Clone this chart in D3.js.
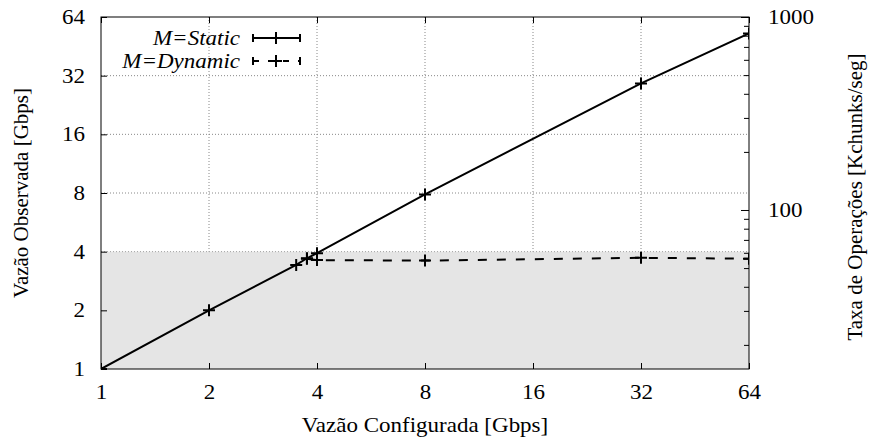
<!DOCTYPE html>
<html><head><meta charset="utf-8">
<script src="https://cdn.jsdelivr.net/npm/d3@7"></script>
<style>body{margin:0;background:#fff}svg{display:block}</style>
</head><body><svg id="c" width="869" height="441"></svg>
<script>
const xTicks = [1, 2, 4, 8, 16, 32, 64];
const yTicks = [1, 2, 4, 8, 16, 32, 64];
const y2Labels = [100, 1000];
const staticX = [1, 2, 3.5, 3.75, 4, 8, 32, 64];
const staticY = [1, 2, 3.42, 3.7, 3.93, 7.87, 29.2, 52.7];
const dynamicX = [3.75, 4, 8, 32, 64];
const dynamicY = [3.68, 3.62, 3.6, 3.72, 3.68];
const shadeLimit = 4;
const seriesNames = ["M=Static", "M=Dynamic"];

const FONT = "'Liberation Serif'";
const FS = 20, SX = 1.15;
const svg = d3.select("#c");
const L = 101, R = 749, T = 17, B = 369;
const x = d3.scaleLog().base(2).domain([1, 64]).range([L, R]);
const y = d3.scaleLog().base(2).domain([1, 64]).range([B, T]);
const y2 = d3.scaleLog().domain([15, 1000]).range([B, T]);

// grid
const grid = svg.append("g").attr("stroke", "#888").attr("stroke-width", 1).attr("stroke-dasharray", "1,2");
xTicks.slice(1, -1).forEach(v => grid.append("line").attr("x1", x(v)).attr("x2", x(v)).attr("y1", B).attr("y2", T));
yTicks.slice(1, -1).forEach(v => grid.append("line").attr("x1", L).attr("x2", R).attr("y1", y(v)).attr("y2", y(v)));

// shaded region
svg.append("rect").attr("x", L).attr("y", y(shadeLimit)).attr("width", R - L).attr("height", B - y(shadeLimit)).attr("fill", "#e5e5e5");
svg.append("line").attr("x1", L).attr("x2", R).attr("y1", y(shadeLimit)).attr("y2", y(shadeLimit))
  .attr("stroke", "#aaa").attr("stroke-dasharray", "1,2");

// axes
const axG = svg.append("g");
const xb = axG.append("g").attr("transform", `translate(0,${B})`)
  .call(d3.axisBottom(x).tickValues(xTicks).tickFormat(d3.format("d")).tickSizeInner(-6).tickSizeOuter(0).tickPadding(16));
const xt = axG.append("g").attr("transform", `translate(0,${T})`)
  .call(d3.axisTop(x).tickValues(xTicks).tickFormat("").tickSizeInner(-6).tickSizeOuter(0));
const yl = axG.append("g").attr("transform", `translate(${L},0)`)
  .call(d3.axisLeft(y).tickValues(yTicks).tickFormat(d3.format("d")).tickSizeInner(-6).tickSizeOuter(0).tickPadding(16));
const y2Minor = y2.ticks().filter(v => y2Labels.indexOf(v) < 0 && v >= 15);
const yr = axG.append("g").attr("transform", `translate(${R},0)`)
  .call(d3.axisRight(y2).tickValues(y2Labels).tickFormat(d3.format("d")).tickSizeInner(-8).tickSizeOuter(0).tickPadding(19));
const yrm = axG.append("g").attr("transform", `translate(${R},0)`)
  .call(d3.axisRight(y2).tickValues(y2Minor).tickFormat("").tickSizeInner(-5).tickSizeOuter(0));
[xb, xt, yl, yr, yrm].forEach(g => {
  g.attr("font-family", null).attr("font-size", null);
  g.select(".domain").remove();
  g.selectAll("line").attr("stroke", "#000");
  g.selectAll("text").attr("fill", "#000").attr("font-size", FS).each(function () {
    const t = d3.select(this);
    const xv = +(t.attr("x") || 0);
    t.attr("x", xv / SX).attr("transform", `scale(${SX},1)`);
  });
});
svg.append("rect").attr("x", L).attr("y", T).attr("width", R - L).attr("height", B - T)
  .attr("fill", "none").attr("stroke", "#000").attr("stroke-width", 1);

// clip
svg.append("clipPath").attr("id", "clip").append("rect").attr("x", L).attr("y", T).attr("width", R - L).attr("height", B - T);

const line = d3.line().x(d => x(d[0])).y(d => y(d[1]));
const sData = staticX.map((v, i) => [v, staticY[i]]);
const dData = dynamicX.map((v, i) => [v, dynamicY[i]]);
const plot = svg.append("g").attr("clip-path", "url(#clip)");
plot.append("path").datum(sData).attr("d", line).attr("fill", "none").attr("stroke", "#000").attr("stroke-width", 2);
plot.append("path").datum(dData).attr("d", line).attr("fill", "none").attr("stroke", "#000").attr("stroke-width", 2).attr("stroke-dasharray", "9,10");
function plus(g, cx, cy) {
  g.append("path").attr("d", `M${cx - 6},${cy}H${cx + 6}M${cx},${cy - 6}V${cy + 6}`).attr("stroke", "#000").attr("stroke-width", 2);
}
sData.forEach(d => plus(plot, x(d[0]), y(d[1])));
dData.forEach(d => plus(plot, x(d[0]), y(d[1])));

// legend
const lg = svg.append("g");
[[38, null], [61, "6,9"]].forEach((row, i) => {
  const yy = row[0];
  lg.append("text").attr("transform", `translate(240,${yy + 7}) scale(${SX},1)`).attr("text-anchor", "end")
    .attr("font-size", 20).attr("font-style", "italic").text(seriesNames[i]);
  const l = lg.append("line").attr("x1", 253).attr("x2", 300).attr("y1", yy).attr("y2", yy).attr("stroke", "#000").attr("stroke-width", 2);
  if (row[1]) l.attr("stroke-dasharray", row[1]);
  lg.append("path").attr("d", `M253,${yy - 4}V${yy + 4}M300,${yy - 4}V${yy + 4}`).attr("stroke", "#000").attr("stroke-width", 2);
  plus(lg, 276, yy);
});

// titles
svg.append("text").attr("transform", `translate(425,432) scale(${SX},1)`).attr("text-anchor", "middle").attr("font-size", FS).text("Vazão Configurada [Gbps]");
svg.append("text").attr("transform", "translate(28,193) rotate(-90)").attr("text-anchor", "middle").attr("font-size", 21).text("Vazão Observada [Gbps]");
svg.append("text").attr("transform", "translate(862,197) rotate(-90)").attr("text-anchor", "middle").attr("font-size", 21).text("Taxa de Operações [Kchunks/seg]");

svg.selectAll("text").attr("font-family", FONT).style("font-family", FONT);
</script></body></html>
